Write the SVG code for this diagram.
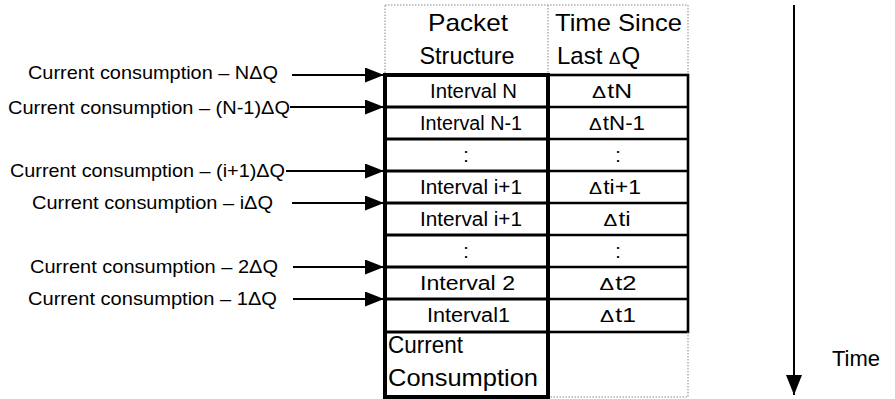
<svg xmlns="http://www.w3.org/2000/svg" width="895" height="399" viewBox="0 0 895 399">
<style>
text{font-family:"Liberation Sans",Arial,sans-serif;fill:#000}
.lbl{font-size:19px}
.hdr{font-size:24px}
.cell{font-size:20px}
.mid{text-anchor:middle}
.d{font-size:17px}
.dot{fill:none;stroke:#888;stroke-width:1;stroke-dasharray:1.5 1.5}
.thick{fill:none;stroke:#000;stroke-width:4}
.thin{fill:none;stroke:#000;stroke-width:2.6}
.row{stroke:#000;stroke-width:3}
.conn{stroke:#000;stroke-width:2;fill:none}
</style>
<defs>
<marker id="ah" markerUnits="userSpaceOnUse" markerWidth="19" markerHeight="15" refX="19" refY="7.5" orient="auto">
<path d="M0,0 L19,7.5 L0,15 z" fill="#000"/>
</marker>
<marker id="ahT" markerUnits="userSpaceOnUse" markerWidth="20" markerHeight="16" refX="20" refY="8" orient="auto">
<path d="M0,0 L20,8 L0,16 z" fill="#000"/>
</marker>
</defs>
<rect width="895" height="399" fill="#fff"/>

<g id="header">
<rect class="dot" x="385" y="5" width="303" height="70"/>
<line class="dot" x1="548" y1="5" x2="548" y2="75"/>
<text class="hdr mid" x="468" y="31" textLength="80" lengthAdjust="spacingAndGlyphs">Packet</text>
<text class="hdr mid" x="467" y="64" textLength="95" lengthAdjust="spacingAndGlyphs">Structure</text>
<text class="hdr" x="555" y="31" textLength="127" lengthAdjust="spacingAndGlyphs">Time Since</text>
<text class="hdr" x="557" y="64">Last <tspan class="d">Δ</tspan><tspan dx="1">Q</tspan></text>
</g>

<g id="table-grid">
<rect class="thin" x="548" y="75" width="140" height="257"/>
<line class="thin" x1="548" y1="107" x2="688" y2="107"/>
<line class="thin" x1="548" y1="139" x2="688" y2="139"/>
<line class="thin" x1="548" y1="171" x2="688" y2="171"/>
<line class="thin" x1="548" y1="203" x2="688" y2="203"/>
<line class="thin" x1="548" y1="235" x2="688" y2="235"/>
<line class="thin" x1="548" y1="267" x2="688" y2="267"/>
<line class="thin" x1="548" y1="299" x2="688" y2="299"/>
<line class="row" x1="385" y1="107" x2="548" y2="107"/>
<line class="row" x1="385" y1="139" x2="548" y2="139"/>
<line class="row" x1="385" y1="171" x2="548" y2="171"/>
<line class="row" x1="385" y1="203" x2="548" y2="203"/>
<line class="row" x1="385" y1="235" x2="548" y2="235"/>
<line class="row" x1="385" y1="267" x2="548" y2="267"/>
<line class="row" x1="385" y1="299" x2="548" y2="299"/>
<line class="row" x1="385" y1="332" x2="548" y2="332"/>
<polyline class="dot" points="688,332 688,397 548,397"/>
<rect class="thick" x="385" y="75" width="163" height="322"/>
</g>

<g id="row-N">
<text class="cell" x="430" y="98" textLength="87" lengthAdjust="spacingAndGlyphs">Interval N</text>
<text class="cell mid" x="612" y="98" textLength="40" lengthAdjust="spacingAndGlyphs"><tspan class="d">Δ</tspan><tspan dx="1">tN</tspan></text>
</g>
<g id="row-N-1">
<text class="cell" x="420" y="130" textLength="102" lengthAdjust="spacingAndGlyphs">Interval N-1</text>
<text class="cell mid" x="617" y="130" textLength="56" lengthAdjust="spacingAndGlyphs"><tspan class="d">Δ</tspan><tspan dx="1">tN-1</tspan></text>
</g>
<g id="row-dots-1">
<text class="cell mid" x="466" y="162">:</text>
<text class="cell mid" x="618" y="162">:</text>
</g>
<g id="row-i+1">
<text class="cell" x="420" y="194" textLength="102" lengthAdjust="spacingAndGlyphs">Interval i+1</text>
<text class="cell mid" x="615" y="194" textLength="52" lengthAdjust="spacingAndGlyphs"><tspan class="d">Δ</tspan><tspan dx="1">ti+1</tspan></text>
</g>
<g id="row-i">
<text class="cell" x="420" y="226" textLength="102" lengthAdjust="spacingAndGlyphs">Interval i+1</text>
<text class="cell mid" x="617" y="226" textLength="27" lengthAdjust="spacingAndGlyphs"><tspan class="d">Δ</tspan><tspan dx="1">ti</tspan></text>
</g>
<g id="row-dots-2">
<text class="cell mid" x="466" y="258">:</text>
<text class="cell mid" x="618" y="258">:</text>
</g>
<g id="row-2">
<text class="cell" x="420" y="290" textLength="95" lengthAdjust="spacingAndGlyphs">Interval 2</text>
<text class="cell mid" x="618" y="290" textLength="37" lengthAdjust="spacingAndGlyphs"><tspan class="d">Δ</tspan><tspan dx="1">t2</tspan></text>
</g>
<g id="row-1">
<text class="cell" x="427" y="322" textLength="83" lengthAdjust="spacingAndGlyphs">Interval1</text>
<text class="cell mid" x="618" y="322" textLength="36" lengthAdjust="spacingAndGlyphs"><tspan class="d">Δ</tspan><tspan dx="1">t1</tspan></text>
</g>
<g id="row-current">
<text class="hdr" x="388" y="353" textLength="75" lengthAdjust="spacingAndGlyphs">Current</text>
<text class="hdr" x="388" y="386" textLength="150" lengthAdjust="spacingAndGlyphs">Consumption</text>
</g>

<g id="labels">
<text class="lbl" x="28" y="79" textLength="250" lengthAdjust="spacingAndGlyphs">Current consumption – NΔQ</text>
<text class="lbl" x="8" y="114" textLength="282" lengthAdjust="spacingAndGlyphs">Current consumption – (N-1)ΔQ</text>
<text class="lbl" x="10" y="177" textLength="275" lengthAdjust="spacingAndGlyphs">Current consumption – (i+1)ΔQ</text>
<text class="lbl" x="32" y="209" textLength="241" lengthAdjust="spacingAndGlyphs">Current consumption – iΔQ</text>
<text class="lbl" x="30" y="273" textLength="248" lengthAdjust="spacingAndGlyphs">Current consumption – 2ΔQ</text>
<text class="lbl" x="28" y="305" textLength="249" lengthAdjust="spacingAndGlyphs">Current consumption – 1ΔQ</text>
</g>

<g id="time-label">
<text x="832" y="366" style="font-size:22px">Time</text>
</g>

<g id="connectors">
<line class="conn" x1="292" y1="75" x2="384" y2="75" marker-end="url(#ah)"/>
<line class="conn" x1="290" y1="107" x2="384" y2="107" marker-end="url(#ah)"/>
<line class="conn" x1="286" y1="171" x2="384" y2="171" marker-end="url(#ah)"/>
<line class="conn" x1="292" y1="203" x2="384" y2="203" marker-end="url(#ah)"/>
<line class="conn" x1="293" y1="267" x2="384" y2="267" marker-end="url(#ah)"/>
<line class="conn" x1="293" y1="299" x2="384" y2="299" marker-end="url(#ah)"/>
<line class="conn" x1="794" y1="5" x2="794" y2="395" marker-end="url(#ahT)"/>
</g>
</svg>
